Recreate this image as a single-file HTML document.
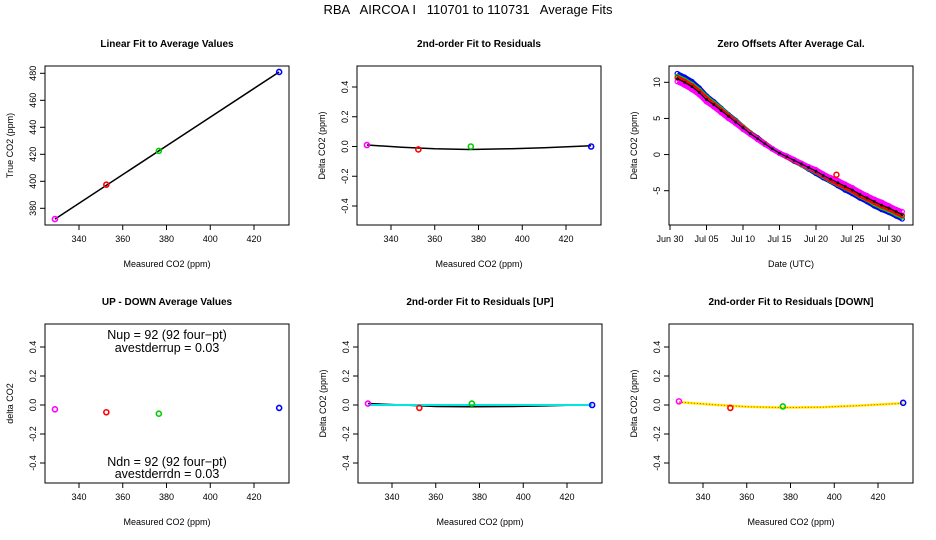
<!DOCTYPE html>
<html><head><meta charset="utf-8"><style>
body{margin:0;background:#fff}
svg{display:block;font-family:"Liberation Sans",sans-serif}
</style></head><body>
<svg id="fig" width="936" height="540" viewBox="0 0 936 540">
<text x="468" y="14" text-anchor="middle" font-size="13" style="white-space:pre" xml:space="preserve">RBA   AIRCOA I   110701 to 110731   Average Fits</text>
</svg>
<script>
// ---- data ----
const calX = [329, 352.5, 376.5, 431.5];
const calColors = ["#ff00ff", "#ff0000", "#00cc00", "#0000ff"];
const trueY = [372, 397.5, 422.5, 481];
const linFitX = [329, 431.5];
const linFitY = [372, 481];
const resid = [0.01, -0.02, 0.0, 0.0];
const fitX = [329, 345, 360, 376, 395, 410, 431.5];
const fitY = [0.01, -0.005, -0.015, -0.02, -0.015, -0.008, 0.005];
const udDiff = [-0.03, -0.05, -0.06, -0.02];
const residUp = [0.01, -0.02, 0.01, 0.0];
const fitUpY = [0.01, 0.0, -0.01, -0.012, -0.01, -0.006, 0.003];
const cyanY = [0.0, 0.0, 0.0, 0.0, 0.0, 0.0, 0.0];
const residDn = [0.025, -0.02, -0.01, 0.015];
const fitDnY = [0.02, 0.002, -0.012, -0.018, -0.015, -0.005, 0.012];
const xTicks = [340, 360, 380, 400, 420];
const days = [1,2,3,4,5,6,7,8,9,10,11,12,13,14,15,16,17,18,19,20,21,22,23,24,25,26,27,28,29,30,31,31.8];
const offBlack = [10.5,10.0,9.4,8.6,7.6,6.9,6.1,5.3,4.5,3.7,2.9,2.2,1.5,0.8,0.2,-0.3,-0.8,-1.3,-1.8,-2.3,-2.9,-3.4,-3.9,-4.4,-4.9,-5.5,-6.0,-6.5,-7.0,-7.4,-7.9,-8.3];
const offBlue = [11.2,10.7,10.1,9.2,8.1,7.3,6.4,5.5,4.7,3.8,3.0,2.3,1.5,0.8,0.2,-0.3,-0.9,-1.4,-2.0,-2.6,-3.2,-3.7,-4.3,-4.9,-5.4,-6.0,-6.5,-7.1,-7.6,-8.0,-8.5,-8.9];
const offGreen = [10.8,10.3,9.7,8.9,7.9,7.1,6.3,5.4,4.6,3.8,3.0,2.2,1.5,0.8,0.2,-0.3,-0.8,-1.4,-1.9,-2.4,-3.0,-3.6,-4.1,-4.6,-5.1,-5.7,-6.2,-6.8,-7.3,-7.7,-8.2,-8.6];
const offRed = [10.6,10.1,9.5,8.7,7.7,6.9,6.1,5.3,4.5,3.7,2.9,2.2,1.5,0.8,0.2,-0.3,-0.8,-1.3,-1.8,-2.3,-2.9,-3.5,-4.0,-4.5,-5.0,-5.6,-6.1,-6.6,-7.1,-7.5,-8.0,-8.4];
const offMag = [10.1,9.6,9.0,8.3,7.3,6.6,5.8,5.0,4.3,3.5,2.8,2.1,1.4,0.8,0.2,-0.2,-0.7,-1.2,-1.7,-2.1,-2.7,-3.2,-3.6,-4.1,-4.6,-5.2,-5.7,-6.2,-6.6,-7.1,-7.6,-7.9];
const redOutlierDay = [22.8];
const redOutlierVal = [-2.8];
const dateTicks = [0,5,10,15,20,25,30];
const dateLabels = ["Jun 30","Jul 05","Jul 10","Jul 15","Jul 20","Jul 25","Jul 30"];
const residTicks = [-0.4,-0.2,0.0,0.2,0.4];
const trueTicks = [380,400,420,440,460,480];
const offTicks = [-5,0,5,10];

// ---- drawing ----
const svg = document.getElementById('fig');
const NS = 'http://www.w3.org/2000/svg';
function mk(tag, at, parent){const e=document.createElementNS(NS,tag);for(const k in at)e.setAttribute(k,at[k]);(parent||svg).appendChild(e);return e;}
function lin(d0,d1,p0,p1){return v=>p0+(v-d0)*(p1-p0)/(d1-d0);}

function panel(ox, oy, name, title, xlab, ylab){
  const g = mk('g',{transform:`translate(${ox},${oy})`});
  
  
  const L=45,R=289,T=0,B=159;
  const box=mk('rect',{x:L,y:T,width:R-L,height:B-T,fill:'none',stroke:'#000','stroke-width':1},g);
  
  
  const t=mk('text',{x:(L+R)/2,y:-19,'text-anchor':'middle','font-size':10,'font-weight':'bold'},g);t.textContent=title;
  
  
  const xl=mk('text',{x:(L+R)/2,y:B+42,'text-anchor':'middle','font-size':9},g);xl.textContent=xlab;
  
  
  const yl=mk('text',{x:0,y:0,'text-anchor':'middle','font-size':9,transform:`translate(13,${(T+B)/2}) rotate(-90)`},g);yl.textContent=ylab;
  
  
  return {g,L,R,T,B};
}
function xAxis(p,sx,ticks,labels){
  mk('line',{x1:sx(ticks[0]),x2:sx(ticks[ticks.length-1]),y1:p.B,y2:p.B,stroke:'#000'},p.g);
  ticks.forEach((v,i)=>{
    mk('line',{x1:sx(v),x2:sx(v),y1:p.B,y2:p.B+5,stroke:'#000'},p.g);
    const t=mk('text',{x:sx(v),y:p.B+17,'text-anchor':'middle','font-size':9},p.g);t.textContent=labels?labels[i]:v;
    
    
  });
}
function yAxis(p,sy,ticks,fmt){
  ticks.forEach(v=>{
    mk('line',{x1:p.L-5,x2:p.L,y1:sy(v),y2:sy(v),stroke:'#000'},p.g);
    const t=mk('text',{x:0,y:0,'text-anchor':'middle','font-size':9,transform:`translate(${p.L-9},${sy(v)}) rotate(-90)`},p.g);t.textContent=fmt(v);
    
    
  });
}
function pts(p,sx,sy,xs,ys,name){
  xs.forEach((x,i)=>{const c=mk('circle',{cx:sx(x),cy:sy(ys[i]),r:2.5,fill:'none',stroke:calColors[i],'stroke-width':1.6},p.g);
    
    });
}
function line(p,sx,sy,xs,ys,col,w,dash,name){
  const l=mk('polyline',{points:xs.map((x,i)=>sx(x)+','+sy(ys[i])).join(' '),fill:'none',stroke:col,'stroke-width':w,'stroke-dasharray':dash||'none'},p.g);
  
  
}
const sxC = lin(340,420,79,254);
const f2=v=>v.toFixed(1);

// panel 1
let p=panel(0,66,'linear-fit-panel','Linear Fit to Average Values','Measured CO2 (ppm)','True CO2 (ppm)');
let sy=lin(380,480,208.3-66,73.3-66);
xAxis(p,sxC,xTicks);yAxis(p,sy,trueTicks,v=>v);
line(p,sxC,sy,linFitX,linFitY,'#000',1.5,null,'linear-fit-line');
pts(p,sxC,sy,calX,trueY,'cal-point');

// panel 2
const syR=lin(0.4,-0.4,21,140);
p=panel(312,66,'residual-panel','2nd-order Fit to Residuals','Measured CO2 (ppm)','Delta CO2 (ppm)');
xAxis(p,sxC,xTicks);yAxis(p,syR,residTicks,f2);
line(p,sxC,syR,fitX,fitY,'#000',1.5,null,'residual-fit-line');
pts(p,sxC,syR,calX,resid,'residual-point');

// panel 3
p=panel(624,66,'zero-offsets-panel','Zero Offsets After Average Cal.','Date (UTC)','Delta CO2 (ppm)');
const sxD=lin(0,30,46,265);
const syD=lin(10,-5,82.3-66,190.7-66);
xAxis(p,sxD,dateTicks,dateLabels);yAxis(p,syD,offTicks,v=>v);
[[offBlue,'#0000ff'],[offGreen,'#00cc00'],[offRed,'#ff0000'],[offMag,'#ff00ff'],[offBlack,'#000']].forEach(([arr,col],k)=>{
  line(p,sxD,syD,days,arr,col,k===4?1.2:5,null,'offset-series');
  days.forEach((d,i)=>{const c=mk('circle',{cx:sxD(d),cy:syD(arr[i]),r:k===4?1:2.2,fill:'none',stroke:col,'stroke-width':k===4?0.8:1.2},p.g);
    
    });
});
redOutlierDay.forEach((d,i)=>{const c=mk('circle',{cx:sxD(d),cy:syD(redOutlierVal[i]),r:2.5,fill:'none',stroke:'#ff0000','stroke-width':1.5},p.g);
  
  });

// panel 4
const syB=lin(0.4,-0.4,23,139);
p=panel(0,324,'up-down-panel','UP - DOWN Average Values','Measured CO2 (ppm)','delta CO2');
xAxis(p,sxC,xTicks);yAxis(p,syB,residTicks,f2);
pts(p,sxC,syB,calX,udDiff,'up-down-point');
[['Nup = 92 (92 four\u2212pt)',15],['avestderrup =  0.03',28],['Ndn = 92 (92 four\u2212pt)',142],['avestderrdn =  0.03',154]].forEach(([s,y])=>{
  const t=mk('text',{x:167,y:y,'text-anchor':'middle','font-size':12.5},p.g);t.textContent=s;
  
  });

// panel 5
p=panel(313,324,'residual-up-panel','2nd-order Fit to Residuals [UP]','Measured CO2 (ppm)','Delta CO2 (ppm)');
xAxis(p,sxC,xTicks);yAxis(p,syB,residTicks,f2);
line(p,sxC,syB,fitX,fitUpY,'#000',1.5,null,'up-fit-line');
line(p,sxC,syB,fitX,cyanY,'#00e5e5',2,null,'up-cyan-line');
pts(p,sxC,syB,calX,residUp,'residual-up-point');

// panel 6
p=panel(624,324,'residual-down-panel','2nd-order Fit to Residuals [DOWN]','Measured CO2 (ppm)','Delta CO2 (ppm)');
xAxis(p,sxC,xTicks);yAxis(p,syB,residTicks,f2);
line(p,sxC,syB,fitX,fitDnY,'#000',1.5,null,'down-fit-line');
line(p,sxC,syB,fitX,fitDnY,'#ffee00',2.5,null,'down-yellow-line');
line(p,sxC,syB,fitX,fitDnY,'#ff3300',1,'1 2','down-red-dotted-line');
pts(p,sxC,syB,calX,residDn,'residual-down-point');
</script>
</body></html>
